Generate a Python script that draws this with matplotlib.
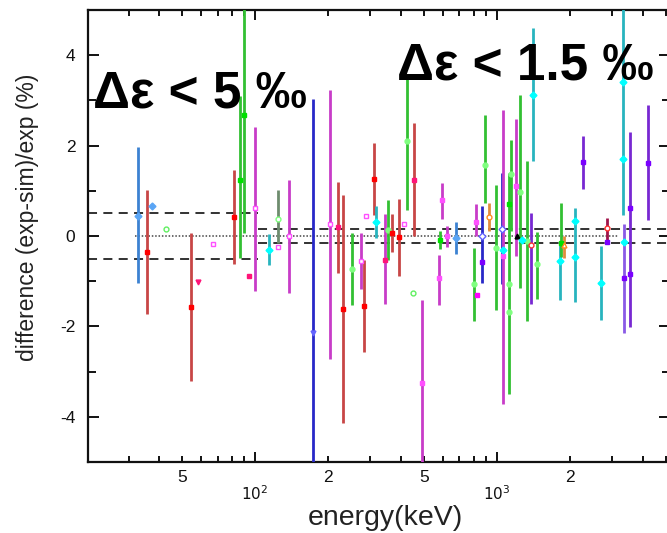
import matplotlib
matplotlib.use("Agg")
import matplotlib.pyplot as plt
from matplotlib.ticker import FixedLocator, NullFormatter

plt.rcParams['font.family'] = ['Liberation Sans', 'DejaVu Sans']
plt.rcParams['axes.unicode_minus'] = False

# colours used for bars and markers
STEEL, BRICK, GREEN, MAG = '#3c82d2', '#c84646', '#32c032', '#c83cc8'
BLUE, CYAN, PURPLE, ORANGE = '#2828c8', '#28b4be', '#7828d2', '#e08c3c'
GRAYGRN, DRED, LPURPLE = '#6e8c6e', '#a0144a', '#8a5ae6'

# measured points: energy (keV), difference (%), lower / upper error
energy = [32.7, 37.4, 35.7, 42.8, 54.2, 58.3, 67.3, 82.1, 86.7, 90.3,
          94.5, 100, 114.6, 124.8, 124.1, 138.6, 173, 204, 220, 230.4,
          250.9, 273.4, 282.9, 286.7, 310.2, 315.3, 344.4, 355.5, 369.3, 394.9,
          412.9, 426, 453.9, 450, 488.5, 577.5, 581.4, 590.8, 623.2, 677.1,
          803.5, 818.8, 824.1, 864.5, 892.1, 926.3, 990.6, 1052, 1062, 1121,
          1143, 1198, 1245, 1334, 1382, 1404, 1459, 1821, 1833, 1897,
          2101, 2260, 2682, 2840, 3307, 3348, 3545, 4220,
          1062, 864.5, 1121, 1121, 1213, 1272, 2101, 2840, 3307, 3348, 3545]
diff = [0.44, 0.67, -0.35, 0.15, -1.58, -1.01, -0.18, 0.43, 1.24, 2.67,
        -0.89, 0.62, -0.30, 0.38, -0.24, -0.01, -2.15, 0.26, 0.20, -1.61,
        -0.73, -0.56, -1.55, 0.44, 1.26, 0.32, -0.52, 0.13, 0.06, -0.03,
        0.27, 2.10, 1.24, -1.26, -3.25, -0.94, -0.09, 0.80, 0.00, -0.04,
        -1.07, 0.30, -1.30, 0.00, 1.58, 0.41, -0.26, 0.16, -0.44, -1.07,
        1.38, 1.11, 0.98, -0.11, -0.20, 3.11, -0.63, -0.55, -0.15, -0.21,
        0.33, 1.63, -1.05, 0.18, 1.70, -0.94, -0.83, 1.62,
        -0.31, -0.57, 0.70, -1.68, 0.00, -0.09, -0.46, -0.14, 3.41, -0.13, 0.62]
err_lo = [1.49, 0, 1.37, 0, 1.62, 0, 0, 1.04, 1.73, 2.60,
          0, 1.84, 0.34, 0.54, 0, 1.26, 5.20, 2.99, 1.02, 2.52,
          0.80, 0.62, 1.02, 0, 0.79, 0.36, 0.99, 0.66, 0.41, 0.86,
          0, 1.52, 1.25, 0, 1.83, 0.59, 0.20, 0.43, 0.24, 0.36,
          0.82, 0.30, 0, 1.05, 0.85, 0.31, 1.37, 1.23, 3.28, 2.43,
          1.28, 1.55, 2.12, 1.78, 1.30, 1.46, 0.76, 0.87, 0.31, 0.27,
          1.79, 0.59, 0.80, 0.34, 1.23, 1.21, 1.18, 1.26,
          0, 0, 0, 0, 0, 0, 0, 0, 0, 0, 0]
err_hi = [1.52, 0, 1.37, 0, 1.64, 0, 0, 1.02, 1.86, 2.70,
          0, 1.79, 0.34, 0.64, 0, 1.25, 5.19, 2.98, 1.00, 2.52,
          0.79, 0.62, 1.02, 0, 0.80, 0.35, 1.00, 0.67, 0.42, 0.85,
          0, 1.44, 1.26, 0, 1.83, 0.53, 0.20, 0.37, 0.22, 0.36,
          0.80, 0.40, 0, 0.67, 1.09, 0.32, 1.39, 1.23, 3.23, 2.46,
          0.74, 1.48, 2.15, 1.78, 0.70, 1.50, 0.71, 0.39, 0.88, 0.20,
          0.30, 0.59, 0.83, 0.21, 3.40, 1.21, 3.13, 1.27,
          0, 0, 0, 0, 0, 0, 0, 0, 0, 0, 0]
bar_color = [STEEL, STEEL, BRICK, GREEN, BRICK, BRICK, MAG, BRICK, GREEN, GREEN,
             BRICK, MAG, CYAN, GRAYGRN, MAG, MAG, BLUE, MAG, BRICK, BRICK,
             GREEN, MAG, BRICK, MAG, BRICK, CYAN, MAG, GREEN, BRICK, BRICK,
             MAG, GREEN, BRICK, GREEN, MAG, MAG, GREEN, MAG, MAG, STEEL,
             GREEN, MAG, MAG, BLUE, GREEN, ORANGE, GREEN, BLUE, MAG, GREEN,
             GREEN, MAG, GREEN, GREEN, PURPLE, CYAN, GREEN, CYAN, GREEN, ORANGE,
             CYAN, PURPLE, CYAN, DRED, CYAN, LPURPLE, PURPLE, PURPLE,
             CYAN, PURPLE, GREEN, GREEN, 'k', CYAN, CYAN, PURPLE, CYAN, CYAN, PURPLE]
marker = ['D', 'D', 's', 'o', 's', 'v', 's', 's', 's', 's',
          's', 's', 'D', 'o', 's', 's', 'v', 's', 's', 's',
          'o', 's', 's', 's', 's', 'D', 's', 'o', 's', 's',
          's', 'o', 's', 'o', 's', 's', 's', 's', 's', 'D',
          'o', 's', 's', 'D', 'o', 'o', 'o', 'D', 's', 'o',
          'o', 's', 'o', 'o', 'o', 'D', 'o', 'D', 's', '^',
          'D', 's', 'D', 'o', 'D', 's', 's', 's',
          'D', 's', 's', 'o', '^', 'D', 'D', 's', 'D', 'D', 's']
marker_color = ['#5aa5f5', '#5aa5f5', '#ff0000', '#60f060', '#ff0000', '#ff1478', '#ff50ff',
                '#ff0000', '#00e000', '#00e000', '#ff1478', '#ff50ff', '#00ffff', '#80ff80',
                '#ff50ff', '#ff50ff', '#6464ff', '#ff50ff', '#ff1478', '#ff0000', '#80ff80',
                '#ff50ff', '#ff0000', '#ff50ff', '#ff0000', '#00ffff', '#ff1478', '#80ff80',
                '#ff0000', '#ff0000', '#ff50ff', '#80ff80', '#ff1478', '#60f060', '#ff50ff',
                '#ff50ff', '#00e000', '#ff50ff', '#ff50ff', '#5aa5f5', '#80ff80', '#ff50ff',
                '#ff00ff', '#6464ff', '#80ff80', '#ff8c1e', '#80ff80', '#6464ff', '#ff50ff',
                '#80ff80', '#80ff80', '#ff50ff', '#80ff80', '#80ff80', '#ff3030', '#00ffff',
                '#80ff80', '#00ffff', '#00e000', '#ff8c1e', '#00ffff', '#7a00ff', '#00ffff',
                '#ff3030', '#00ffff', '#7a00ff', '#7a00ff', '#7a00ff',
                '#00ffff', '#7a00ff', '#00e000', '#80ff80', 'k', '#00ffff', '#00ffff',
                '#7a00ff', '#00ffff', '#00ffff', '#7a00ff']
hollow = [3, 6, 11, 13, 14, 15, 17, 21, 23, 30, 33, 43, 45, 47, 54, 59, 63]

# reference bands: +-0.5 % below 100 keV, +-0.15 % above
band_low = [-0.5, 0.5]
band_high = [-0.15, 0.15]
split_energy = 103

fig = plt.figure(figsize=(6.67, 5.33), dpi=100)
ax = fig.add_axes([88 / 667, 71 / 533, 582 / 667, 452 / 533])

for i in range(len(energy)):
    face = 'white' if i in hollow else marker_color[i]
    ax.errorbar([energy[i]], [diff[i]], yerr=[[err_lo[i]], [err_hi[i]]],
                fmt=marker[i], color=bar_color[i], elinewidth=2.0, capsize=0,
                ms=3.5, mfc=face, mec=marker_color[i], mew=1.0, zorder=3)

ax.set_xscale('log')
ax.set_xlim(20.4, 5190)
ax.set_ylim(-5, 5)

# dashed bands and dotted zero line
ax.hlines(band_low, 20.4, split_energy, colors='#222222', linestyles=(0, (5, 3.5)), lw=1.3, zorder=2)
ax.hlines(band_high, split_energy, 5190, colors='#222222', linestyles=(0, (5, 3.5)), lw=1.3, zorder=2)
ax.hlines([0], 32, 3200, colors='#444444', linestyles=(0, (1, 1.2)), lw=1.1, zorder=2)

# ticks
ax.xaxis.set_major_locator(FixedLocator([100, 1000]))
ax.set_xticklabels(['$10^2$', '$10^3$'])
ax.xaxis.set_minor_locator(FixedLocator([30, 40, 50, 60, 70, 80, 90, 200, 300, 400, 500,
                                         600, 700, 800, 900, 2000, 3000, 4000, 5000]))
ax.xaxis.set_minor_formatter(NullFormatter())
ax.set_yticks([-4, -2, 0, 2, 4])
ax.set_yticks([-3, -1, 1, 3], minor=True)
ax.set_yticklabels(['-4', '-2', '0', '2', '4'])
ax.tick_params(which='both', direction='in', top=True, right=True, width=1.4, colors='#111111')
ax.tick_params(axis='y', which='major', length=8, labelsize=12.5, pad=9)
ax.tick_params(axis='y', which='minor', length=6)
ax.tick_params(axis='x', which='major', length=7, labelsize=11, pad=16)
ax.tick_params(axis='x', which='minor', length=4)
for v, lab in [(50, '5'), (200, '2'), (500, '5'), (2000, '2')]:
    ax.annotate(lab, (v, 0), xycoords=('data', 'axes fraction'), xytext=(0, -6),
                textcoords='offset points', ha='center', va='top', fontsize=12.5, color='#111111')
for sp in ax.spines.values():
    sp.set_linewidth(1.6)
    sp.set_color('#111111')

fig.text(28 / 667, 1 - 217 / 533, 'difference (exp-sim)/exp (%)', rotation=90,
         ha='center', va='center', fontsize=16.5, color='#222222')
fig.text(385 / 667, 1 - 518 / 533, 'energy(keV)', ha='center', va='center',
         fontsize=20.5, color='#222222')

fig.text(93 / 667, 1 - 108 / 533, 'Δε < 5 ‰', ha='left', va='baseline',
         fontsize=37, fontweight='bold', color='black', zorder=5)
fig.text(397 / 667, 1 - 80 / 533, 'Δε < 1.5 ‰', ha='left', va='baseline',
         fontsize=37, fontweight='bold', color='black', zorder=5)

fig.savefig('out.png', dpi=100)
